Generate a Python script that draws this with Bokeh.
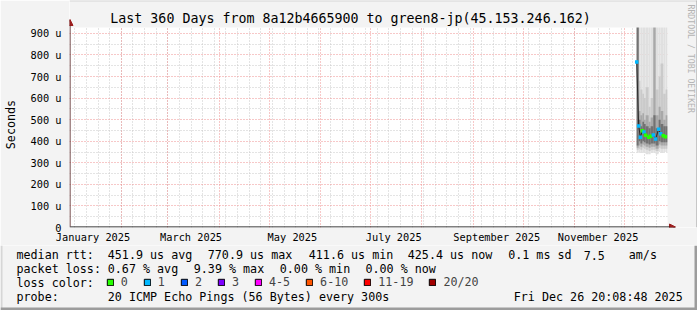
import pandas as pd
from math import pi
from bokeh.plotting import figure
from bokeh.layouts import column, row
from bokeh.models import (Range1d, FixedTicker, Label, Legend, LegendItem, Arrow, NormalHead,
                          BoxAnnotation, ColumnDataSource)
from bokeh.embed import file_html
from bokeh.resources import INLINE

MONO = "DejaVu Sans Mono"

# ---------------- data ----------------
start_time = "2024-12-31 20:08:48"
end_time = "2025-12-26 20:08:48"

times = ["2025-12-08 06:00", "2025-12-09 10:00", "2025-12-10 11:00", "2025-12-11 16:00",
         "2025-12-12 15:00", "2025-12-13 15:00", "2025-12-15 10:00", "2025-12-16 15:00",
         "2025-12-18 06:00", "2025-12-19 15:00", "2025-12-21 10:00", "2025-12-22 15:00",
         "2025-12-24 06:00", "2025-12-25 15:00"]
median_us = [768, 471, 419, 449, 443, 428, 419, 423, 429, 410, 456, 435, 426, 421]
lost_pings = [1, 1, 1, 0, 1, 0, 0, 0, 1, 1, 1, 1, 0, 0]

# smoke layers (microseconds), outer -> inner
smoke_lo1 = [345, 350, 345, 350, 345, 340, 340, 345, 345, 340, 350, 345, 350, 350]
smoke_hi1 = [1000, 1000, 1000, 1000, 1000, 1000, 1000, 1000, 1000, 1000, 1000, 1000, 1000, 1000]
smoke_lo2 = [360, 365, 360, 370, 365, 360, 355, 360, 360, 355, 370, 365, 365, 365]
smoke_hi2 = [1000, 680, 640, 620, 600, 650, 560, 600, 1000, 640, 700, 760, 620, 640]
smoke_lo3 = [370, 380, 375, 385, 380, 375, 370, 375, 375, 365, 385, 380, 380, 380]
smoke_hi3 = [1000, 540, 520, 530, 500, 520, 490, 510, 1000, 520, 560, 540, 500, 520]
smoke_lo4 = [380, 400, 390, 400, 395, 390, 385, 390, 390, 380, 400, 395, 395, 395]
smoke_hi4 = [1000, 500, 470, 490, 480, 470, 460, 470, 520, 460, 500, 480, 470, 470]

loss_labels = ["0", "1", "2", "3", "4-5", "6-10", "11-19", "20/20"]
loss_upper = [0, 1, 2, 3, 5, 10, 19, 20]
loss_colors = ["#26ff00", "#00b8ff", "#0059ff", "#7e00ff", "#ff00ff", "#ff5500", "#ff0000", "#a10000"]

y_max = 928
y_ticks = [0, 100, 200, 300, 400, 500, 600, 700, 800, 900]
y_tick_labels = ["0", "100 u", "200 u", "300 u", "400 u", "500 u", "600 u", "700 u", "800 u", "900 u"]
x_label_dates = ["2025-01-15", "2025-03-15", "2025-05-15", "2025-07-15", "2025-09-15", "2025-11-15"]
x_label_texts = ["January 2025", "March 2025", "May 2025", "July 2025", "September 2025", "November 2025"]

title_text = "Last 360 Days from 8a12b4665900 to green8-jp(45.153.246.162)"
y_axis_text = "Seconds"
rtt_stats = ["451.9 us avg", "770.9 us max", "411.6 us min", "425.4 us now", "0.1 ms sd", "7.5", "am/s"]
loss_stats = ["0.67 % avg", "9.39 % max", "0.00 % min", "0.00 % now"]
probe_text = "20 ICMP Echo Pings (56 Bytes) every 300s"
stamp_text = "Fri Dec 26 20:08:48 2025"
credit_text = "RRDTOOL / TOBI OETIKER"

# ---------------- helpers ----------------
def ms(s):
    return int(pd.Timestamp(s).value // 10**6)

def loss_color(n):
    for up, c in zip(loss_upper, loss_colors):
        if n <= up:
            return c
    return loss_colors[-1]

W, H = 697, 310
MAIN_H = 245
PL, PR, PB = 67, 667, 228          # plot area (canvas px): left, right, bottom
PT = 27                            # plot area top
BACK = "#f3f3f3"
SHADE_A = "#d6d6d6"
SHADE_B = "#9c9c9c"
GRID = "#c8c8c8"
MGRID = "#ee9090"
ARROW = "#9b1c1c"

t0 = ms(start_time)
t_end = ms(end_time)
ms_per_px = (t_end - t0) / (PR - PL)
t_ms = [ms(t) for t in times]
rights = t_ms[1:] + [t_end]

# frame covers the whole width and the space above the plot area, so that
# title, arrows and credit text can be drawn inside it
p = figure(width=W, height=MAIN_H, x_axis_type="datetime", title=None,
           x_range=Range1d(t0, t0 + (W - PL) * ms_per_px),
           y_range=Range1d(0, y_max * PB / (PB - PT)),
           min_border_left=PL, min_border_right=0, min_border_top=0,
           min_border_bottom=MAIN_H - PB, toolbar_location=None, output_backend="svg")
p.background_fill_color = "white"
p.border_fill_color = BACK
p.outline_line_color = None

def sx(cx):
    return cx - PL
def sy(cy):
    return PB - cy

month_starts = [ms(d) for d in pd.date_range("2025-02-01", "2025-12-01", freq="MS")]
weeks = [ms(d) for d in pd.date_range("2025-01-04", "2025-12-26", freq="7D")]
p.xgrid.ticker = FixedTicker(ticks=month_starts, minor_ticks=weeks)
p.ygrid.ticker = FixedTicker(ticks=y_ticks[1:], minor_ticks=[v + 50 for v in y_ticks[:-1]])
for g in (p.xgrid, p.ygrid):
    g.grid_line_color = MGRID
    g.grid_line_dash = "1 2"
    g.minor_grid_line_color = GRID
    g.minor_grid_line_dash = "1 2"

p.xaxis.ticker = FixedTicker(ticks=[ms(d) for d in x_label_dates])
p.xaxis.major_label_overrides = {ms(d): s for d, s in zip(x_label_dates, x_label_texts)}
p.yaxis.ticker = FixedTicker(ticks=y_ticks)
p.yaxis.major_label_overrides = {v: s for v, s in zip(y_ticks, y_tick_labels)}
for ax in (p.xaxis, p.yaxis):
    ax.major_tick_line_color = None
    ax.minor_tick_line_color = None
    ax.major_tick_out = 0
    ax.major_tick_in = 0
    ax.major_label_text_font = MONO
    ax.major_label_text_font_size = "10.3px"
    ax.major_label_text_color = "black"
    ax.axis_line_color = None
p.xaxis.major_label_standoff = 3
p.yaxis.major_label_standoff = 8
# padded with non-breaking spaces so the word sits centred on the plot area
p.yaxis.axis_label = y_axis_text + "\u00a0" * 3
p.yaxis.axis_label_text_font = MONO
p.yaxis.axis_label_text_font_size = "11.7px"
p.yaxis.axis_label_text_font_style = "normal"
p.yaxis.axis_label_text_color = "black"
p.yaxis.axis_label_standoff = 10

# smoke
layers = [(smoke_lo1, smoke_hi1, "#e0e0e0"), (smoke_lo2, smoke_hi2, "#cacaca"),
          (smoke_lo3, smoke_hi3, "#a8a8a8"), (smoke_lo4, smoke_hi4, "#727272")]
for lo, hi, col in layers:
    src = ColumnDataSource(dict(left=t_ms, right=rights, bottom=lo, top=hi))
    p.quad(left="left", right="right", bottom="bottom", top="top", source=src,
           fill_color=col, line_color=None)

# median
msrc = ColumnDataSource(dict(x=t_ms, y=median_us, c=[loss_color(n) for n in lost_pings]))
p.line("x", "y", source=msrc, line_color="#2a2a2a", line_width=1)
p.scatter("x", "y", source=msrc, marker="square", size=3.5, fill_color="c", line_color=None)

# cover everything outside the plot area with the page background
p.add_layout(BoxAnnotation(bottom=y_max, fill_color=BACK, fill_alpha=1, line_color=None))
p.add_layout(BoxAnnotation(left=t_end, fill_color=BACK, fill_alpha=1, line_color=None))

def sbox(fig, l, r, b, t, col):
    fig.add_layout(BoxAnnotation(left=l, right=r, bottom=b, top=t,
                                 left_units="screen", right_units="screen",
                                 bottom_units="screen", top_units="screen",
                                 fill_color=col, fill_alpha=1, line_color=None))

sbox(p, 0, W - PL, sy(2), sy(0), SHADE_A)
sbox(p, sx(W - 3), sx(W), 0, sy(0), SHADE_B)

# axis arrows
p.add_layout(Arrow(start=None,
                   end=NormalHead(size=6, fill_color=ARROW, line_color=ARROW, line_width=1),
                   x_start=0, y_start=0.5, x_end=sx(673), y_end=0.5,
                   start_units="screen", end_units="screen", line_color="black", line_width=1))
p.add_layout(Arrow(start=None,
                   end=NormalHead(size=6, fill_color=ARROW, line_color=ARROW, line_width=1),
                   x_start=0.5, y_start=1, x_end=0.5, y_end=sy(20),
                   start_units="screen", end_units="screen", line_color="#4a1515", line_width=1))

p.add_layout(Label(x=sx(348), y=sy(19), x_units="screen", y_units="screen", text=title_text,
                   text_font=MONO, text_font_size="13.3px", text_color="black",
                   text_align="center", text_baseline="middle"))
p.add_layout(Label(x=sx(688), y=sy(5), x_units="screen", y_units="screen", text=credit_text,
                   text_font=MONO, text_font_size="8.2px", text_color="#b4b4b4",
                   text_align="left", text_baseline="middle", angle=-pi / 2))

# ---------------- bottom legend area ----------------
BH = H - MAIN_H
bot = figure(width=W, height=BH, x_range=Range1d(0, W), y_range=Range1d(0, BH), title=None,
             min_border=0, x_axis_location=None, y_axis_location=None,
             toolbar_location=None, output_backend="svg")
bot.grid.visible = False
bot.outline_line_color = None
bot.background_fill_color = BACK
bot.border_fill_color = BACK

def text(cx, cy, s):
    bot.add_layout(Label(x=cx, y=H - cy, x_units="screen", y_units="screen", text=s,
                         text_font=MONO, text_font_size="11.7px", text_color="black",
                         text_align="left", text_baseline="middle"))

row1 = [107.3, 207.3, 308.3, 407.3, 507.7, 583.3, 628.3]
text(16, 254.5, "median rtt:")
for cx, s in zip(row1, rtt_stats):
    text(cx, 254.5, s)
row2 = [107.3, 193.3, 279.3, 365]
text(16, 268.3, "packet loss:")
for cx, s in zip(row2, loss_stats):
    text(cx, 268.3, s)
text(16, 282.3, "loss color:")
text(16, 296, "probe:")
text(107.3, 296, probe_text)
text(513.3, 296, stamp_text)

nan = float("nan")
items = []
for lab, col in zip(loss_labels, loss_colors):
    r = bot.quad(left=[nan], right=[nan], top=[nan], bottom=[nan], fill_color=col,
                 line_color="black")
    items.append(LegendItem(label=lab, renderers=[r]))
bot.add_layout(Legend(items=items, orientation="horizontal", location=(105.8, 20.7),
                      glyph_width=8, glyph_height=8, label_standoff=7, spacing=15,
                      padding=0, margin=0, label_width=0, label_height=8,
                      label_text_font=MONO, label_text_font_size="11.7px",
                      background_fill_alpha=0, border_line_alpha=0))

sbox(bot, 0, 2, 0, BH, SHADE_A)
sbox(bot, W - 3, W, 0, BH, SHADE_B)
sbox(bot, 0, W, 0, 3, SHADE_B)

layout = column(row(p), row(bot))
open("out.html", "w").write(file_html(layout, INLINE))
